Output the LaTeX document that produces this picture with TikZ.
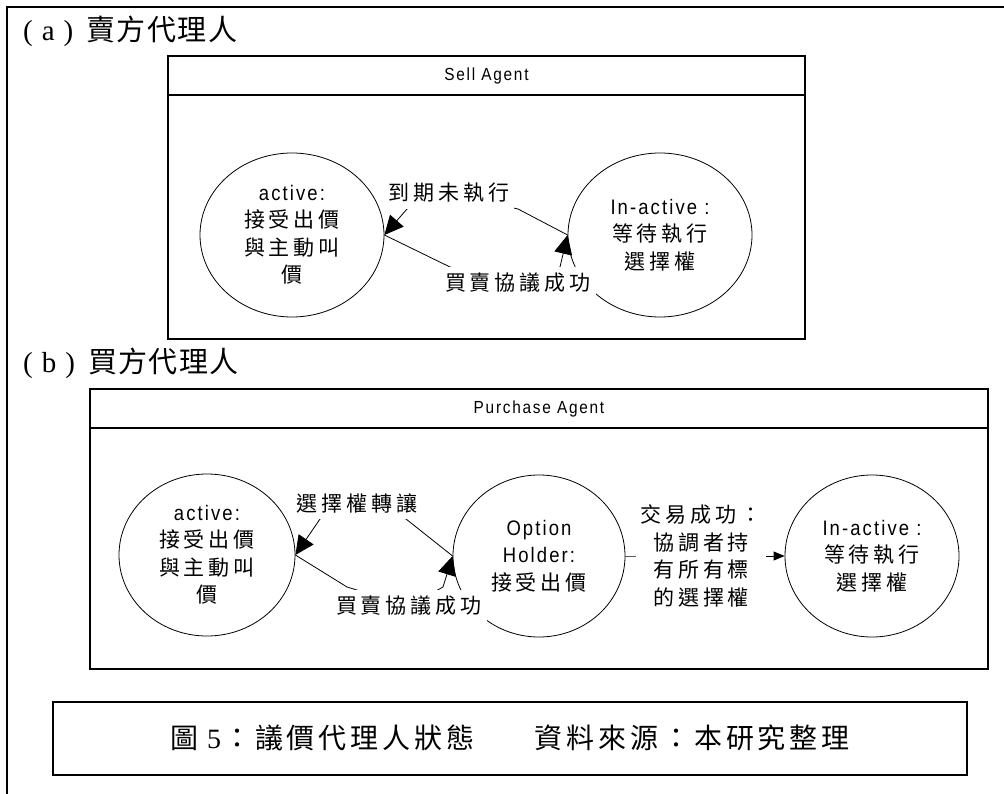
\documentclass[tikz,border=0pt]{standalone}
\usepackage{fontspec}
\setmainfont{Liberation Sans}
\newfontfamily\cjk[LetterSpace=19]{Noto Sans CJK TC}
\newfontfamily\cjkh[LetterSpace=5]{Noto Sans CJK TC}
\newfontfamily\cjkc[LetterSpace=14]{Noto Sans CJK TC}
\newfontfamily\lat[FakeStretch=0.88,LetterSpace=10]{Liberation Sans}
\newfontfamily\serifc{Liberation Serif}
\usetikzlibrary{shapes.geometric,arrows.meta}
\tikzset{
  state/.style={ellipse, draw, line width=0.8pt, inner sep=0pt, align=center,
                font=\fontsize{21}{27.5}\selectfont},
  lbl/.style={fill=white, inner xsep=5pt, inner ysep=6pt, align=center,
              font=\cjk\fontsize{21}{27.5}\selectfont},
  conn/.style={line width=0.8pt},
  bigtip/.style={-{Triangle[length=19pt,width=18pt]}},
  smalltip/.style={-{Triangle[length=11pt,width=9pt]}},
  agentbox/.style={line width=1.1pt},
  title/.style={font=\lat\fontsize{17.5}{20}\selectfont},
  heading/.style={anchor=west, inner sep=0pt, font=\fontsize{29}{31}\selectfont},
}
\begin{document}
\begin{tikzpicture}[x=1pt,y=-1pt]
\useasboundingbox (0,0) rectangle (1004,794);
% outer frame
\draw[line width=2.2pt] (7,794) -- (7,7) -- (1004,7);

% headings
\node[heading] (ha) at (23,31) {{\serifc (\hspace{9pt}a\hspace{9pt})}\hspace{13pt}{\cjkh 賣方代理人}};
\node[heading] (hb) at (23,363) {{\serifc (\hspace{9pt}b\hspace{9pt})}\hspace{13pt}{\cjkh 買方代理人}};

% ---------------- (a) Sell Agent ----------------
\draw[agentbox] (168,56) rectangle (805,339);
\draw[agentbox] (168,95) -- (805,95);
\node[title] (sellT) at (486.5,75.5) {Sell Agent};

\node[state, minimum width=184, minimum height=164] (actA) at (292,235)
  {{\lat active:}\\{\cjk 接受出價}\\{\cjk 與主動叫}\\{\cjk 價}};
\node[state, minimum width=184, minimum height=164] (inA) at (660,235)
  {{\lat In-active :}\\{\cjk 等待執行}\\{\cjk 選擇權}};

\coordinate (a1) at (518,209);
\coordinate (m1) at (449,193);
\coordinate (a2) at (407,209);
\coordinate (a3) at (450,267);
\coordinate (m2) at (518,283);
\coordinate (a4) at (560,267);
\draw[conn,bigtip] (inA.west) -- (a1) -- (m1) -- (a2) -- (actA.east);
\draw[conn,bigtip] (actA.east) -- (a3) -- (m2) -- (a4) -- (inA.west);
\node[lbl] (lA1) at (m1) {到期未執行};
\node[lbl] (lA2) at (m2) {買賣協議成功};

% ---------------- (b) Purchase Agent ----------------
\draw[agentbox] (90,389) rectangle (988,669);
\draw[agentbox] (90,428) -- (988,428);
\node[title] (purT) at (539,408.5) {Purchase Agent};

\node[state, minimum width=176, minimum height=162] (actB) at (207,555)
  {{\lat active:}\\{\cjk 接受出價}\\{\cjk 與主動叫}\\{\cjk 價}};
\node[state, minimum width=172, minimum height=162] (ohB) at (539,556)
  {{\lat Option}\\{\lat Holder:}\\{\cjk 接受出價}};
\node[state, minimum width=174, minimum height=162] (inB) at (872,556)
  {{\lat In-active :}\\{\cjk 等待執行}\\{\cjk 選擇權}};

\coordinate (b1) at (406,519);
\coordinate (n1) at (357,503);
\coordinate (b2) at (320,519);
\coordinate (b3) at (347,587);
\coordinate (n2) at (409,606);
\coordinate (b4) at (443,587);
\coordinate (n3) at (701,556);
\draw[conn,bigtip] (ohB.west) -- (b1) -- (n1) -- (b2) -- (actB.east);
\draw[conn,bigtip] (actB.east) -- (b3) -- (n2) -- (b4) -- (ohB.west);
\draw[conn,smalltip] (ohB.east) -- (n3) -- (inB.west);
\node[lbl] (lB1) at (n1) {選擇權轉讓};
\node[lbl] (lB2) at (n2) {買賣協議成功};
\node[lbl] (lB3) at (n3) {交易成功：\\協調者持\\有所有標\\的選擇權};

% ---------------- caption ----------------
\draw[line width=1.8pt] (53,702) rectangle (967,775);
\node[font=\cjkc\fontsize{28}{30}\selectfont] (cap) at (510,738)
  {圖\hspace{9pt}{\serifc 5}\hspace{2pt}：議價代理人狀態\hspace{60pt}資料來源：本研究整理};
\end{tikzpicture}
\end{document}
